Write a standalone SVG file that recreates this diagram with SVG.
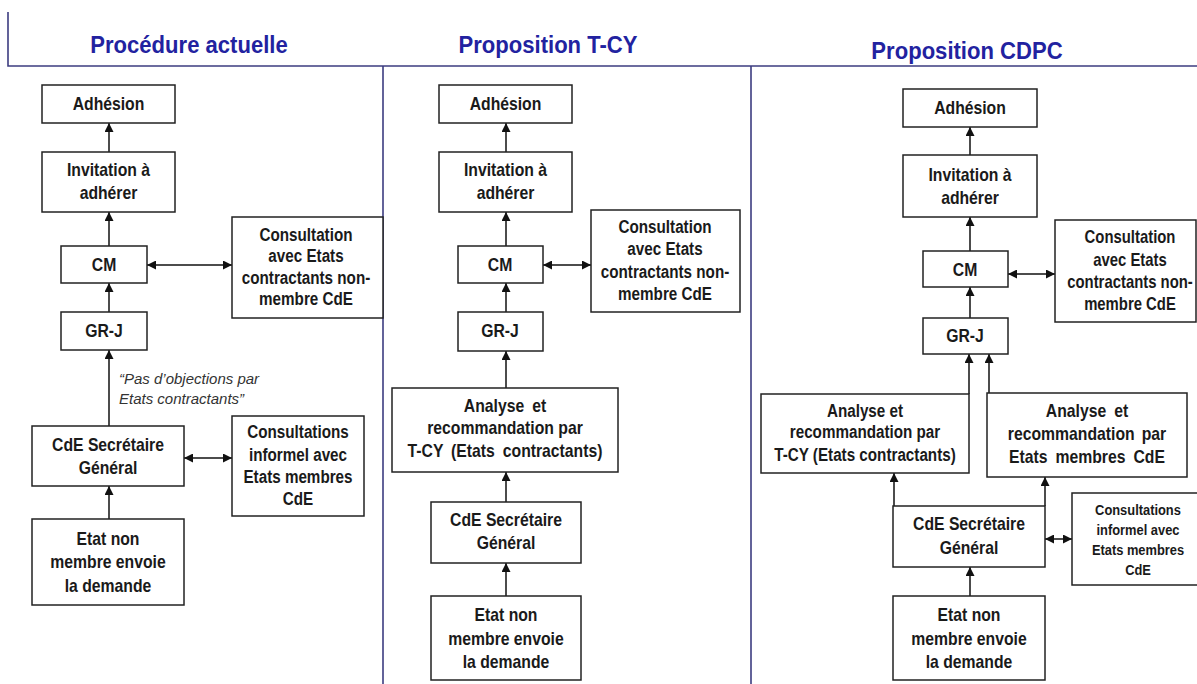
<svg xmlns="http://www.w3.org/2000/svg" width="1197" height="684" viewBox="0 0 1197 684">
<style>
.frame{stroke:#3c3c80;stroke-width:1.6;fill:none}
.box{fill:#fff;stroke:#222;stroke-width:1.5}
.t{font-family:"Liberation Sans",Arial,sans-serif;font-weight:bold;font-size:17.5px;fill:#1a1a1a;text-anchor:middle}
.xs{font-size:14px}
.title{font-family:"Liberation Sans",Arial,sans-serif;font-weight:bold;font-size:24px;fill:#2222a0;text-anchor:middle}
.it{font-family:"Liberation Sans",Arial,sans-serif;font-style:italic;font-size:15px;fill:#333}
.c{stroke:#111;stroke-width:1.5;fill:none}
</style>
<defs>
<marker id="ah" markerUnits="userSpaceOnUse" markerWidth="10" markerHeight="9" refX="9" refY="4.5" orient="auto-start-reverse">
<path d="M0,0 L9,4.5 L0,9 z" fill="#111"/>
</marker>
</defs>
<rect width="1197" height="684" fill="#fff"/>
<g id="frame">
<path class="frame" d="M8,12 V66 H1197"/>
<path class="frame" d="M383,66 V684"/>
<path class="frame" d="M751,66 V684"/>
</g>
<g id="titles">
<g transform="translate(189 0) scale(0.92 1)"><text class="title" x="0" y="53">Procédure actuelle</text></g>
<g transform="translate(548 0) scale(0.92 1)"><text class="title" x="0" y="53">Proposition T-CY</text></g>
<g transform="translate(967 0) scale(0.92 1)"><text class="title" x="0" y="59">Proposition CDPC</text></g>
</g>
<g id="connectors">
<line class="c" x1="109" y1="152" x2="109" y2="123" marker-end="url(#ah)"/>
<line class="c" x1="109" y1="246" x2="109" y2="212" marker-end="url(#ah)"/>
<line class="c" x1="109" y1="312" x2="109" y2="283" marker-end="url(#ah)"/>
<line class="c" x1="109" y1="426" x2="109" y2="350" marker-end="url(#ah)"/>
<line class="c" x1="109" y1="519" x2="109" y2="486" marker-end="url(#ah)"/>
<line class="c" x1="147" y1="265" x2="232" y2="265" marker-start="url(#ah)" marker-end="url(#ah)"/>
<line class="c" x1="184" y1="458" x2="232" y2="458" marker-start="url(#ah)" marker-end="url(#ah)"/>
<line class="c" x1="506" y1="152" x2="506" y2="123" marker-end="url(#ah)"/>
<line class="c" x1="506" y1="246" x2="506" y2="212" marker-end="url(#ah)"/>
<line class="c" x1="506" y1="312" x2="506" y2="283" marker-end="url(#ah)"/>
<line class="c" x1="506" y1="388" x2="506" y2="351" marker-end="url(#ah)"/>
<line class="c" x1="506" y1="502" x2="506" y2="472" marker-end="url(#ah)"/>
<line class="c" x1="506" y1="596" x2="506" y2="563" marker-end="url(#ah)"/>
<line class="c" x1="543" y1="265" x2="591" y2="265" marker-start="url(#ah)" marker-end="url(#ah)"/>
<line class="c" x1="970" y1="155" x2="970" y2="127" marker-end="url(#ah)"/>
<line class="c" x1="970" y1="251" x2="970" y2="217" marker-end="url(#ah)"/>
<line class="c" x1="970" y1="318" x2="970" y2="287" marker-end="url(#ah)"/>
<line class="c" x1="969" y1="394" x2="969" y2="354" marker-end="url(#ah)"/>
<line class="c" x1="989" y1="393" x2="989" y2="354" marker-end="url(#ah)"/>
<line class="c" x1="894" y1="506" x2="894" y2="473" marker-end="url(#ah)"/>
<line class="c" x1="1045" y1="506" x2="1045" y2="477" marker-end="url(#ah)"/>
<line class="c" x1="970" y1="596" x2="970" y2="567" marker-end="url(#ah)"/>
<line class="c" x1="1008" y1="274" x2="1055" y2="274" marker-start="url(#ah)" marker-end="url(#ah)"/>
<line class="c" x1="1045" y1="539" x2="1072" y2="539" marker-start="url(#ah)" marker-end="url(#ah)"/>
</g>
<g id="p1-adhesion"><rect class="box" x="42" y="85" width="133" height="38"/><g transform="translate(108.5 0) scale(0.9 1)"><text class="t" x="0" y="110">Adhésion</text></g></g>
<g id="p1-invitation"><rect class="box" x="42" y="152" width="133" height="60"/><g transform="translate(108.5 0) scale(0.9 1)"><text class="t" x="0" y="176">Invitation à</text><text class="t" x="0" y="199">adhérer</text></g></g>
<g id="p1-cm"><rect class="box" x="61" y="246" width="86" height="37"/><g transform="translate(104 0) scale(0.9 1)"><text class="t" x="0" y="271">CM</text></g></g>
<g id="p1-grj"><rect class="box" x="61" y="312" width="86" height="38"/><g transform="translate(104 0) scale(0.9 1)"><text class="t" x="0" y="337">GR-J</text></g></g>
<g id="p1-consultation"><rect class="box" x="232" y="217" width="151" height="101"/><g transform="translate(306 0) scale(0.87 1)"><text class="t" x="0" y="241">Consultation</text><text class="t" x="0" y="262">avec Etats</text><text class="t" x="0" y="284">contractants non-</text><text class="t" x="0" y="305">membre CdE</text></g></g>
<g id="p1-label"><text class="it" x="119" y="384">“Pas d’objections par</text><text class="it" x="119" y="404">Etats contractants”</text></g>
<g id="p1-cde"><rect class="box" x="32" y="426" width="152" height="60"/><g transform="translate(108 0) scale(0.9 1)"><text class="t" x="0" y="451">CdE Secrétaire</text><text class="t" x="0" y="474">Général</text></g></g>
<g id="p1-informel"><rect class="box" x="232" y="416" width="132" height="100"/><g transform="translate(298 0) scale(0.87 1)"><text class="t" x="0" y="438">Consultations</text><text class="t" x="0" y="461">informel avec</text><text class="t" x="0" y="483">Etats membres</text><text class="t" x="0" y="505">CdE</text></g></g>
<g id="p1-etat"><rect class="box" x="32" y="519" width="152" height="86"/><g transform="translate(108 0) scale(0.9 1)"><text class="t" x="0" y="545">Etat non</text><text class="t" x="0" y="568">membre envoie</text><text class="t" x="0" y="592">la demande</text></g></g>
<g id="p2-adhesion"><rect class="box" x="439" y="85" width="133" height="38"/><g transform="translate(505.5 0) scale(0.9 1)"><text class="t" x="0" y="110">Adhésion</text></g></g>
<g id="p2-invitation"><rect class="box" x="439" y="152" width="133" height="60"/><g transform="translate(505.5 0) scale(0.9 1)"><text class="t" x="0" y="176">Invitation à</text><text class="t" x="0" y="199">adhérer</text></g></g>
<g id="p2-cm"><rect class="box" x="458" y="246" width="85" height="37"/><g transform="translate(500 0) scale(0.9 1)"><text class="t" x="0" y="271">CM</text></g></g>
<g id="p2-grj"><rect class="box" x="458" y="312" width="85" height="39"/><g transform="translate(500 0) scale(0.9 1)"><text class="t" x="0" y="337">GR-J</text></g></g>
<g id="p2-consultation"><rect class="box" x="591" y="210" width="149" height="102"/><g transform="translate(665 0) scale(0.87 1)"><text class="t" x="0" y="233">Consultation</text><text class="t" x="0" y="255">avec Etats</text><text class="t" x="0" y="278">contractants non-</text><text class="t" x="0" y="300">membre CdE</text></g></g>
<g id="p2-analyse"><rect class="box" x="392" y="388" width="226" height="84"/><g transform="translate(505 0) scale(0.9 1)"><text class="t" x="0" y="412" style="word-spacing:4px">Analyse et</text><text class="t" x="0" y="434">recommandation par</text><text class="t" x="0" y="457" style="word-spacing:4px">T-CY (Etats contractants)</text></g></g>
<g id="p2-cde"><rect class="box" x="431" y="502" width="150" height="61"/><g transform="translate(506 0) scale(0.9 1)"><text class="t" x="0" y="526">CdE Secrétaire</text><text class="t" x="0" y="549">Général</text></g></g>
<g id="p2-etat"><rect class="box" x="431" y="596" width="150" height="84"/><g transform="translate(506 0) scale(0.9 1)"><text class="t" x="0" y="621">Etat non</text><text class="t" x="0" y="645">membre envoie</text><text class="t" x="0" y="668">la demande</text></g></g>
<g id="p3-adhesion"><rect class="box" x="903" y="89" width="134" height="38"/><g transform="translate(970 0) scale(0.9 1)"><text class="t" x="0" y="114">Adhésion</text></g></g>
<g id="p3-invitation"><rect class="box" x="903" y="155" width="134" height="62"/><g transform="translate(970 0) scale(0.9 1)"><text class="t" x="0" y="181">Invitation à</text><text class="t" x="0" y="204">adhérer</text></g></g>
<g id="p3-cm"><rect class="box" x="923" y="251" width="85" height="36"/><g transform="translate(965 0) scale(0.9 1)"><text class="t" x="0" y="276">CM</text></g></g>
<g id="p3-grj"><rect class="box" x="923" y="318" width="85" height="36"/><g transform="translate(965 0) scale(0.9 1)"><text class="t" x="0" y="342">GR-J</text></g></g>
<g id="p3-consultation"><rect class="box" x="1055" y="220" width="141" height="102"/><g transform="translate(1130 0) scale(0.85 1)"><text class="t" x="0" y="243">Consultation</text><text class="t" x="0" y="266">avec Etats</text><text class="t" x="0" y="288">contractants non-</text><text class="t" x="0" y="310">membre CdE</text></g></g>
<g id="p3-analyse-tcy"><rect class="box" x="761" y="394" width="208" height="79"/><g transform="translate(865 0) scale(0.87 1)"><text class="t" x="0" y="417">Analyse et</text><text class="t" x="0" y="438">recommandation par</text><text class="t" x="0" y="461">T-CY (Etats contractants)</text></g></g>
<g id="p3-analyse-cde"><rect class="box" x="987" y="393" width="200" height="84"/><g transform="translate(1087 0) scale(0.9 1)"><text class="t" x="0" y="417" style="word-spacing:4px">Analyse et</text><text class="t" x="0" y="440" style="word-spacing:3px">recommandation par</text><text class="t" x="0" y="463" style="word-spacing:4px">Etats membres CdE</text></g></g>
<g id="p3-cde"><rect class="box" x="893" y="506" width="152" height="61"/><g transform="translate(969 0) scale(0.9 1)"><text class="t" x="0" y="530">CdE Secrétaire</text><text class="t" x="0" y="554">Général</text></g></g>
<g id="p3-informel"><rect class="box" x="1072" y="493" width="130" height="92"/><g transform="translate(1138 0) scale(0.92 1)"><text class="t xs" x="0" y="515">Consultations</text><text class="t xs" x="0" y="535">informel avec</text><text class="t xs" x="0" y="555">Etats membres</text><text class="t xs" x="0" y="575">CdE</text></g></g>
<g id="p3-etat"><rect class="box" x="893" y="596" width="152" height="84"/><g transform="translate(969 0) scale(0.9 1)"><text class="t" x="0" y="621">Etat non</text><text class="t" x="0" y="645">membre envoie</text><text class="t" x="0" y="668">la demande</text></g></g>
</svg>
